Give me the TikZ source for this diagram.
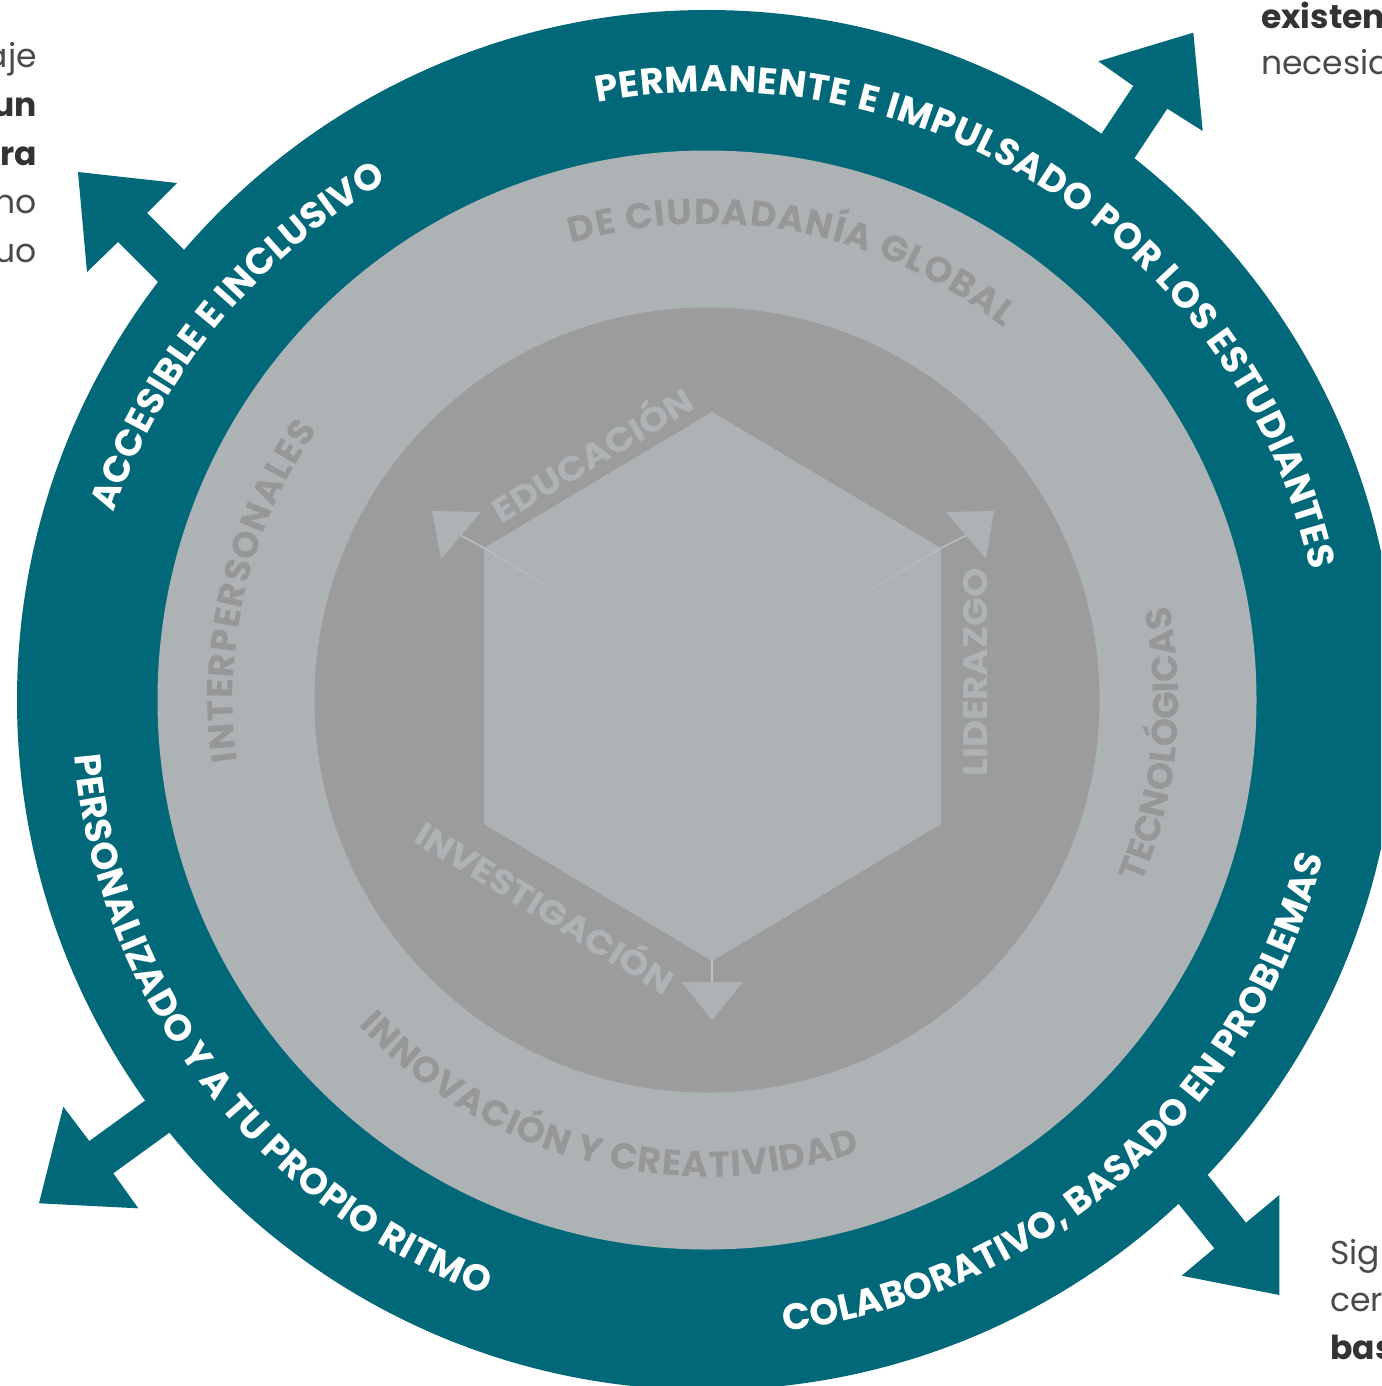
\documentclass[tikz,border=0pt]{standalone}
\usepackage{fontspec}
\setmainfont{Poppins}
\newfontfamily\widefont[FakeStretch=1.1]{Poppins}
\usetikzlibrary{decorations.text,calc}
\definecolor{teal1}{RGB}{1,104,122}
\definecolor{lgray}{RGB}{173,178,180}
\definecolor{dgray}{RGB}{156,156,156}
\definecolor{gtext}{RGB}{151,151,151}
\definecolor{itext}{RGB}{174,179,181}
\definecolor{linecol}{RGB}{188,192,194}
\definecolor{darktxt}{RGB}{51,51,51}
\definecolor{midtxt}{RGB}{74,74,74}
% #1 start offset from centre, #2 start angle, #3 end angle, #4 radius, #5 colour, #6 size, #7 text
\newcommand{\ringlabel}[7]{%
  \path[decorate, decoration={text along path, text align={fit to path},
    text={|\color{#5}\bfseries\fontsize{#6}{#6}\selectfont|#7}}]
    (C) ++#1 arc[start angle=#2, end angle=#3, radius=#4];}
\begin{document}
\begin{tikzpicture}[x=1pt,y=1pt,
  bigarrow/.style={fill=teal1},
  innertxt/.style={text=itext, font=\widefont\bfseries\fontsize{34}{34}\selectfont, inner sep=0},
  sidereg/.style={text=midtxt, font=\fontsize{33}{33}\selectfont, inner sep=0},
  sidebold/.style={text=darktxt, font=\bfseries\fontsize{33}{33}\selectfont, inner sep=0},
  tri/.style={fill=lgray},
  conn/.style={draw=linecol, line width=1.5}]
\path[use as bounding box] (0,0) rectangle (1381,-1386);
\clip (0,0) rectangle (1381,-1386);
\coordinate (C) at (707,-700);

% big arrows
\fill[bigarrow] (253,-319) -- (147,-213) -- (177,-183) -- (78,-172) -- (87,-272) -- (118,-242) -- (224,-348) -- cycle;
\fill[bigarrow] (1050,-211) -- (1133.3,-86) -- (1098.3,-61.3) -- (1193.3,-32.7) -- (1202.7,-131) -- (1167.3,-108.7) -- (1084,-234) -- cycle;
\fill[bigarrow] (210.7,-1053) -- (89.3,-1141) -- (63.3,-1106.7) -- (39,-1203.3) -- (138.3,-1208.3) -- (113.3,-1173.3) -- (234.7,-1085.3) -- cycle;
\fill[bigarrow] (1152,-1105.7) -- (1246,-1222.7) -- (1279.3,-1195) -- (1279.3,-1295) -- (1181.7,-1275.7) -- (1214.3,-1248.3) -- (1120.3,-1131.3) -- cycle;

% rings
\fill[teal1] (C) circle[radius=690];
\fill[lgray] (C) circle[radius=549.5];
\fill[dgray] (C) circle[radius=392.5];

% hexagon (cube)
\coordinate (hT) at (712,-412);
\coordinate (hUR) at (941,-548);
\coordinate (hLR) at (941,-824);
\coordinate (hB) at (712,-961);
\coordinate (hLL) at (484,-824);
\coordinate (hUL) at (484,-548);
\fill[lgray] (hT) -- (hUR) -- (hLR) -- (hB) -- (hLL) -- (hUL) -- cycle;
\coordinate (cUL) at (633,-639);
\coordinate (cUR) at (787,-640);
\foreach \i in {0,...,9} {
  \draw[draw=linecol, line width=1, opacity={1-\i/10}] ($(hUL)!\i/10!(cUL)$) -- ($(hUL)!{(\i+1)/10}!(cUL)$);
  \draw[draw=linecol, line width=1, opacity={1-\i/10}] ($(hUR)!\i/10!(cUR)$) -- ($(hUR)!{(\i+1)/10}!(cUR)$);
}

% small arrows
\coordinate (aUL) at (461,-535.5);
\coordinate (aUR) at (966,-535.5);
\coordinate (aB) at (712,-982);
\draw[conn] (hUL) -- (aUL);
\draw[conn] (hUR) -- (aUR);
\draw[conn] (hB) -- (aB);
\fill[tri] (432,-511) -- (481,-512) -- (441,-559) -- cycle;
\fill[tri] (994,-511) -- (946,-512) -- (986,-559) -- cycle;
\fill[tri] (712,-1020) -- (681.5,-982) -- (743,-982) -- cycle;

% inner labels
\node[innertxt, rotate=30.8] (edu) at (591,-452) {EDUCACIÓN};
\node[innertxt, rotate=90] (lid) at (975.5,-672.5) {LIDERAZGO};
\node[innertxt, rotate=-31.5] (inv) at (547,-904.5) {INVESTIGACIÓN};

% ring labels
\ringlabel{(-109.6,597.1)}{100.9}{12.67}{612}{white}{37}{PERMANENTE E IMPULSADO POR LOS ESTUDIANTES}
\ringlabel{(-593.2,187.0)}{160.9}{120.07}{615}{white}{37}{ACCESIBLE E INCLUSIVO}
\ringlabel{(185:635)}{185}{249.5}{635}{white}{37}{PERSONALIZADO Y A TU PROPIO RITMO}
\ringlabel{(-83:636)}{-83}{-14.3}{636}{white}{37}{COLABORATIVO, BASADO EN PROBLEMAS}
\ringlabel{(106.5:476)}{106.5}{51.4}{476}{gtext}{36}{DE CIUDADANÍA GLOBAL}
\ringlabel{(223:477)}{223}{288.7}{477}{gtext}{36}{INNOVACIÓN Y CREATIVIDAD}
\ringlabel{(187.5:474)}{187.5}{145.3}{474}{gtext}{36}{INTERPERSONALES}
\ringlabel{(-22.9:472)}{-22.9}{11.3}{472}{gtext}{36}{TECNOLÓGICAS}

% side texts (cropped page text)
\node[sidereg, anchor=base east] (l1) at (37,-68) {aje};
\node[sidebold, anchor=base east] (l2) at (37,-117) {un};
\node[sidebold, anchor=base east] (l3) at (37,-165) {ra};
\node[sidereg, anchor=base east] (l4) at (37,-213) {no};
\node[sidereg, anchor=base east] (l5) at (37,-262) {uo};
\node[sidebold, anchor=base west] (r1) at (1261,-29) {existen};
\node[sidereg, anchor=base west] (r2) at (1261,-75) {necesid};
\node[sidereg, anchor=base west] (b1) at (1330,-1264) {Sig};
\node[sidereg, anchor=base west] (b2) at (1330,-1311) {cer};
\node[sidebold, anchor=base west] (b3) at (1330,-1359) {bas};
\end{tikzpicture}
\end{document}
